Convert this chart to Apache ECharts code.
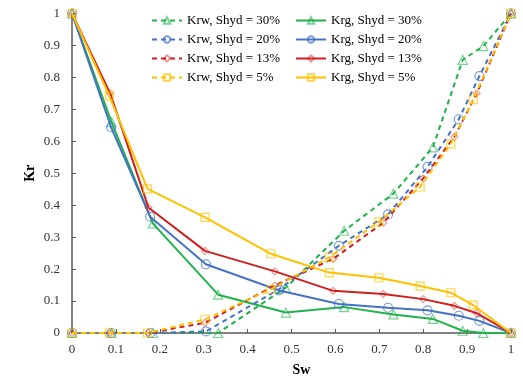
<!DOCTYPE html>
<html><head><meta charset="utf-8">
<script src="https://cdn.jsdelivr.net/npm/echarts@6/dist/echarts.min.js"></script>
<style>html,body{margin:0;padding:0;background:#fff}#c{width:523px;height:376px}</style>
</head><body><div id="c"></div>
<script>
// Sw values per hydrate saturation case
var sw30 = [0, 0.09, 0.184, 0.333, 0.487, 0.62, 0.732, 0.822, 0.89, 0.937, 1];
var sw20 = [0, 0.089, 0.178, 0.305, 0.472, 0.608, 0.72, 0.81, 0.881, 0.928, 1];
var sw13 = [0, 0.087, 0.174, 0.303, 0.462, 0.595, 0.709, 0.8, 0.871, 0.922, 1];
var sw5  = [0, 0.085, 0.172, 0.303, 0.453, 0.586, 0.699, 0.793, 0.863, 0.914, 1];
// Krw (water relative permeability)
var krw30 = [0, 0, 0, 0, 0.142, 0.32, 0.436, 0.581, 0.855, 0.898, 1];
var krw20 = [0, 0, 0, 0.005, 0.137, 0.273, 0.371, 0.52, 0.669, 0.804, 1];
var krw13 = [0, 0, 0, 0.032, 0.149, 0.232, 0.345, 0.484, 0.614, 0.75, 1];
var krw5  = [0, 0, 0, 0.043, 0.137, 0.237, 0.348, 0.457, 0.592, 0.73, 1];
// Krg (gas relative permeability)
var krg30 = [1, 0.66, 0.343, 0.12, 0.064, 0.081, 0.058, 0.044, 0.007, 0, 0];
var krg20 = [1, 0.644, 0.364, 0.215, 0.133, 0.091, 0.079, 0.071, 0.054, 0.038, 0];
var krg13 = [1, 0.75, 0.393, 0.257, 0.193, 0.132, 0.122, 0.106, 0.085, 0.062, 0];
var krg5  = [1, 0.742, 0.451, 0.362, 0.248, 0.189, 0.173, 0.147, 0.126, 0.087, 0];

var krwNames = ['Krw, Shyd = 30%', 'Krw, Shyd = 20%', 'Krw, Shyd = 13%', 'Krw, Shyd = 5%'];
var krgNames = ['Krg, Shyd = 30%', 'Krg, Shyd = 20%', 'Krg, Shyd = 13%', 'Krg, Shyd = 5%'];
var xTicks = [0, 0.1, 0.2, 0.3, 0.4, 0.5, 0.6, 0.7, 0.8, 0.9, 1];

var colors = ['#22b24c', '#4472c4', '#d01f1f', '#ffc000'];
var markerColors = ['rgba(34,178,76,0.6)', 'rgba(68,114,196,0.7)', 'rgba(208,31,31,0.45)', 'rgba(255,192,0,0.7)'];
var symbols = ['triangle', 'circle', 'diamond', 'rect'];
var symSizes = [9, 9, 7, 8];

function pairs(xs, ys) { return xs.map(function (x, i) { return [x, ys[i]]; }); }

var sws = [sw30, sw20, sw13, sw5];
var krws = [krw30, krw20, krw13, krw5];
var krgs = [krg30, krg20, krg13, krg5];

var series = [];
for (var i = 0; i < 4; i++) {
  series.push({
    name: krwNames[i], type: 'line', data: pairs(sws[i], krws[i]),
    symbol: symbols[i], symbolSize: symSizes[i], showAllSymbol: true,
    lineStyle: { color: colors[i], width: 2, type: [5, 4] },
    itemStyle: { color: 'rgba(255,255,255,0)', borderColor: markerColors[i], borderWidth: 1.2 },
    z: 2 + i
  });
  series.push({
    name: krgNames[i], type: 'line', data: pairs(sws[i], krgs[i]),
    symbol: symbols[i], symbolSize: symSizes[i], showAllSymbol: true,
    lineStyle: { color: colors[i], width: 2 },
    itemStyle: { color: 'rgba(255,255,255,0)', borderColor: markerColors[i], borderWidth: 1.2 },
    z: 2 + i
  });
}

var font = 'Liberation Serif, Times New Roman, serif';
var legendBase = {
  orient: 'vertical', top: 9, itemWidth: 30, itemHeight: 8, itemGap: 6,
  textStyle: { fontFamily: font, fontSize: 13, color: '#000' }
};

var chart = echarts.init(document.getElementById('c'), null, { renderer: 'canvas' });
chart.setOption({
  animation: false,
  backgroundColor: '#fff',
  grid: { left: 72, right: 12, top: 13.5, bottom: 43, outerBoundsMode: 'none', containLabel: false },
  legend: [
    Object.assign({}, legendBase, { left: 146, data: krwNames }),
    Object.assign({}, legendBase, { left: 290, data: krgNames })
  ],
  xAxis: {
    type: 'value', min: 0, max: 1, interval: 0.1,
    name: 'Sw', nameLocation: 'middle', nameGap: 30, nameMoveOverlap: false,
    nameTextStyle: { fontFamily: font, fontSize: 14, fontWeight: 'bold', color: '#000', padding: [0, 0, 0, 20] },
    axisLine: { show: true, lineStyle: { color: '#595959', width: 1.5 } },
    axisTick: { show: true, inside: true, length: 4, lineStyle: { color: '#595959' } },
    axisLabel: { fontFamily: font, fontSize: 13, color: '#333', margin: 10,
      formatter: function (v) { var t = xTicks.filter(function (x) { return Math.abs(x - v) < 1e-6; }); return t.length ? String(t[0]) : ''; } },
    splitLine: { show: false }
  },
  yAxis: {
    type: 'value', min: 0, max: 1, interval: 0.1,
    name: 'Kr', nameLocation: 'middle', nameGap: 35, nameMoveOverlap: false,
    nameTextStyle: { fontFamily: font, fontSize: 14, fontWeight: 'bold', color: '#000' },
    axisLine: { show: true, lineStyle: { color: '#595959', width: 1.5 } },
    axisTick: { show: true, inside: true, length: 4, lineStyle: { color: '#595959' } },
    axisLabel: { fontFamily: font, fontSize: 13, color: '#333', margin: 12,
      formatter: function (v) { return String(Math.round(v * 10) / 10); } },
    splitLine: { show: false }
  },
  series: series
});
</script></body></html>
